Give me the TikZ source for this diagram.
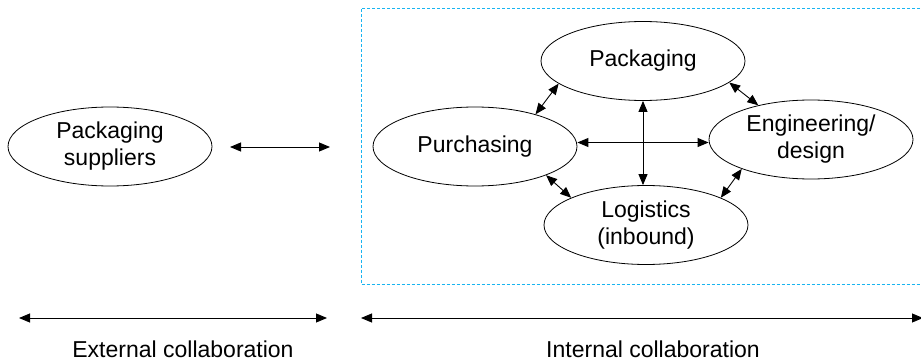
\documentclass[tikz,border=0pt]{standalone}
\usepackage{fontspec}
\setmainfont{Liberation Sans}
\usetikzlibrary{arrows.meta,shapes.geometric}
\definecolor{boxblue}{HTML}{19B4F0}
\tikzset{
  oval/.style={ellipse, draw=black, line width=0.8pt, minimum width=204, minimum height=79, inner sep=0pt,
    align=center, font=\fontsize{23}{27}\selectfont},
  arr/.style={line width=0.9pt, {Triangle[length=11pt,width=9pt]}-{Triangle[length=11pt,width=9pt]}},
  lbl/.style={font=\fontsize{23}{27}\selectfont, inner sep=0pt}
}
\begin{document}
\begin{tikzpicture}[x=1pt,y=-1pt]
\useasboundingbox (0,0) rectangle (921,361);
\draw[boxblue, line width=0.8pt, dash pattern=on 3pt off 2pt] (940,8.5) -- (361,8.5) -- (361,284) -- (940,284);
\node[oval] (sup) at (110,146.5) {Packaging\\suppliers};
\node[oval] (pack) at (643,61) {Packaging};
\node[oval] (purch) at (475,146.5) {Purchasing};
\node[oval] (eng) at (811,139.5) {Engineering/\\design};
\node[oval] (log) at (646,225) {Logistics\\(inbound)};
\coordinate (e1) at (230,147);
\coordinate (e2) at (330,147);
\draw[arr] (e1) -- (e2);
\draw[arr] (purch.east |- 0,142.5) -- (eng.west |- 0,142.5);
\draw[arr] (pack.south) -- (pack.south |- log.north);
\draw[arr] (pack.195.7) -- (purch.28.8);
\draw[arr] (pack.346.7) -- (eng.147.9);
\draw[arr] (purch.338.7) -- (log.160);
\draw[arr] (eng.203.8) -- (log.20.5);
\coordinate (x1) at (19,318);
\coordinate (x2) at (327,318);
\coordinate (i1) at (361,318);
\coordinate (i2) at (923,318);
\draw[arr] (x1) -- (x2);
\draw[arr] (i1) -- (i2);
\node[lbl] (ext) at (183,349) {External collaboration};
\node[lbl] (int) at (653,349) {Internal collaboration};
\end{tikzpicture}
\end{document}
